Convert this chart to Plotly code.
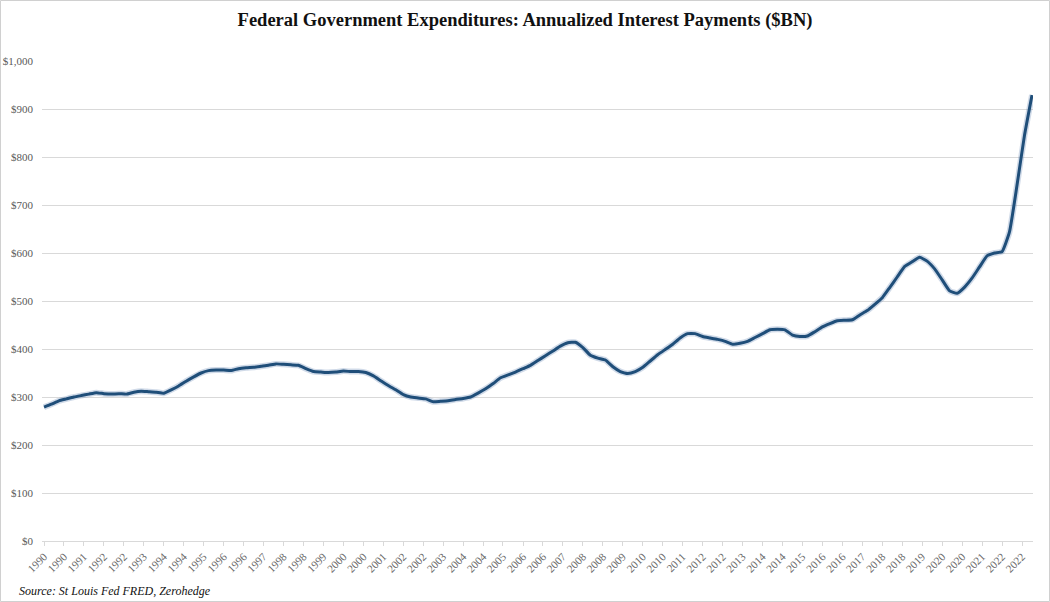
import pandas as pd
import plotly.graph_objects as go

# Quarterly dates 1990Q1 .. 2023Q1
quarters = pd.date_range("1990-01-01", "2023-01-01", freq="QS").strftime("%Y-%m-%d").tolist()

# Annualized federal interest payments ($BN)
interest = [
    279, 285, 292, 296, 300, 303, 306, 309, 307, 306,
    307, 306, 310, 312, 311, 310, 308, 315, 323, 333,
    342, 350, 355, 356, 356, 355, 359, 361, 362, 364,
    366, 369, 368, 367, 366, 359, 353, 352, 351, 352,
    354, 353, 353, 351, 344, 334, 324, 315, 305, 300,
    298, 296, 290, 291, 292, 295, 297, 300, 308, 317,
    328, 340, 346, 352, 359, 366, 376, 386, 396, 406,
    413, 414, 403, 387, 381, 377, 363, 353, 349, 353,
    362, 375, 388, 399, 410, 423, 432, 432, 426, 423,
    420, 416, 410, 412, 416, 424, 432, 440, 441, 440,
    429, 426, 427, 436, 446, 453, 459, 460, 461, 471,
    480, 493, 507, 528, 550, 572, 582, 591, 583, 567,
    544, 521, 516, 529, 548, 571, 594, 600, 603, 644,
    740, 845, 929,
]

y_ticks = [0, 100, 200, 300, 400, 500, 600, 700, 800, 900, 1000]
y_tick_labels = ["$0", "$100", "$200", "$300", "$400", "$500", "$600",
                 "$700", "$800", "$900", "$1,000"]

title_text = "Federal Government Expenditures: Annualized Interest Payments ($BN)"
source_text = "Source: St Louis Fed FRED, Zerohedge"

fig = go.Figure()

# soft shadow under the line
fig.add_trace(go.Scatter(
    x=quarters, y=interest, mode="lines",
    line=dict(color="rgba(120,150,190,0.35)", width=6, shape="spline", smoothing=0.4),
    hoverinfo="skip", showlegend=False,
))
fig.add_trace(go.Scatter(
    x=quarters, y=interest, mode="lines",
    line=dict(color="#1F4E79", width=3, shape="spline", smoothing=0.4),
    name="Interest Payments", showlegend=False,
))

serif = "Liberation Serif, Times New Roman, serif"

fig.update_layout(
    width=1050, height=602,
    margin=dict(l=42, r=17, t=61, b=61),
    paper_bgcolor="white", plot_bgcolor="white",
    title=dict(text="<b>" + title_text + "</b>", x=0.5, xanchor="center",
               y=1 - 20 / 602, yanchor="middle",
               font=dict(family=serif, size=18.5, color="#111111")),
    xaxis=dict(
        type="date", automargin=False,
        range=["1989-12-07", "2023-01-13"],
        tick0="1990-01-01", dtick="M8", tickformat="%Y",
        tickangle=-45,
        tickfont=dict(family=serif, size=11, color="#666666"),
        showgrid=False, zeroline=False,
        showline=True, linecolor="#d9d9d9", linewidth=1,
        ticks="outside", ticklen=4, tickcolor="#d9d9d9",
    ),
    yaxis=dict(
        range=[0, 1000], automargin=False,
        tickvals=y_ticks, ticktext=y_tick_labels,
        tickfont=dict(family=serif, size=11, color="#595959"),
        showgrid=True, gridcolor="#d9d9d9", gridwidth=1,
        zeroline=False, showline=False, ticks="", ticklabelstandoff=8,
    ),
    annotations=[dict(
        text="<i>" + source_text + "</i>",
        xref="paper", yref="paper",
        x=-25 / 991, y=-50 / 480, xanchor="left", yanchor="middle",
        showarrow=False, font=dict(family=serif, size=12, color="#111111"),
    )],
    shapes=[dict(
        type="rect", xref="paper", yref="paper",
        x0=-41.5 / 991, x1=1049.5 / 991 - 42 / 991,
        y0=-60.5 / 480, y1=(601.5 - 61) / 480,
        line=dict(color="#d0d0d0", width=1), fillcolor="rgba(0,0,0,0)",
        layer="below",
    )],
)

fig.write_html(
    "out.html",
    config={"displayModeBar": False},
    post_script="document.body.style.margin='0';document.body.style.overflow='hidden';",
)
